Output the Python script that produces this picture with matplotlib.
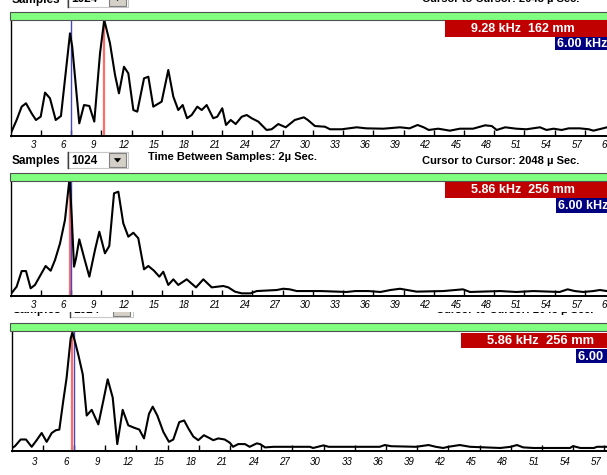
import matplotlib
matplotlib.use("Agg")
import matplotlib.pyplot as plt
from matplotlib.patches import Rectangle, Polygon
from matplotlib.transforms import blended_transform_factory, ScaledTranslation

plt.rcParams['font.family'] = ['Liberation Sans', 'DejaVu Sans']

# ---- spectrum data (frequency in kHz, relative amplitude in %) ----
khz1 = [0.0, 0.58, 1.08, 1.51, 2.07, 2.5, 2.97, 3.4, 3.89, 4.46, 4.98, 5.88, 6.1, 6.8,
        7.27, 7.8, 8.29, 8.86, 9.28, 9.85, 10.35, 10.74, 11.24, 11.67, 12.17, 12.56,
        13.23, 13.66, 14.15, 14.98, 15.64, 16.14, 16.63, 17.07, 17.5, 17.96, 18.52,
        18.96, 19.45, 20.1, 20.5, 21.0, 21.37, 21.84, 22.33, 22.93, 23.43, 23.92, 24.58,
        25.4, 25.9, 26.56, 27.3, 28.2, 29.1, 29.5, 30.2, 31.2, 31.7, 32.86, 34.35, 35.3,
        37.0, 38.65, 39.6, 40.4, 41.0, 41.5, 42.45, 43.6, 44.6, 45.9, 47.1, 47.76, 48.25,
        49.1, 50.2, 51.2, 52.55, 53.2, 53.9, 54.7, 55.4, 56.5, 57.4, 57.85, 58.8, 59.2]
amp1 = [2.3, 13.8, 25.3, 28.2, 19.5, 13.8, 16.7, 37.4, 32.5, 13.8, 17.2, 88.5, 77, 10.9,
        26.7, 25.9, 12.4, 71.3, 100, 79.9, 52.6, 36.8, 59.7, 54, 22.4, 21,
        49.7, 51.1, 25.3, 29.6, 56.9, 33.9, 22.4, 26.7, 15.3, 18.1, 25.3,
        22.4, 26.7, 15.3, 16.6, 23.9, 9.5, 13.8, 10.3, 16.6, 18.1, 15.3, 12.4,
        5.2, 5.8, 10.3, 7.5, 13.8, 16.1, 13.8, 8.6, 8.0, 5.8, 5.8, 7.5, 6.6,
        6.3, 7.5, 6.6, 9.5, 7.5, 5.2, 6.3, 4.6, 6.3, 6.3, 9.2, 8.6, 5.2,
        7.5, 6.3, 5.8, 7.5, 5.2, 6.3, 5.2, 6.6, 6.6, 5.8, 4.6, 6.6, 7.5]

khz2 = [0.0, 0.58, 1.08, 1.51, 1.97, 2.4, 2.9, 3.46, 3.96, 4.39, 4.89, 5.38, 5.78, 5.86,
        6.05, 6.28, 6.48, 6.8, 7.27, 7.8, 8.36, 8.79, 9.35, 9.78, 10.25, 10.68, 11.17,
        11.67, 12.17, 12.66, 13.23, 13.66, 14.22, 14.75, 15.14, 15.64, 16.14, 16.63,
        17.47, 18.39, 19.12, 19.95, 21.1, 21.6, 22.26, 22.93, 23.8, 24.42, 26.4, 27.06,
        27.7, 28.4, 30.8, 33.35, 34.2, 35.5, 36.7, 37.7, 38.65, 40.3, 42.95, 44.9, 45.6,
        48.6, 50.2, 51.9, 54.5, 55.3, 56.0, 56.85, 57.85, 58.5, 59.2]
amp2 = [1.7, 8.1, 21.7, 21.7, 6.7, 9.6, 17.4, 26.1, 22, 31.3, 45.8, 66.1, 98, 100,
        69, 25.5, 32.8, 49.3, 33.7, 16.8, 40, 55.9, 37.1, 43.5, 89.3, 90.7, 63.2,
        51.6, 55, 50.2, 23.2, 26.1, 22, 16.8, 21.1, 9.6, 14.5, 9.6,
        14.5, 7.5, 14.5, 7.5, 8.7, 7.5, 3.8, 2.3, 2.3, 4.3, 5.2, 6.3,
        5.8, 4.3, 4.3, 3.5, 4.3, 4.3, 3.5, 5.2, 6.3, 3.8, 4.3, 5.8, 3.5,
        4.3, 3.5, 4.3, 3.5, 5.8, 4.3, 3.5, 4.3, 5.2, 4.3]

khz3 = [0.0, 0.34, 0.88, 1.39, 1.94, 2.42, 2.9, 3.38, 3.87, 4.25, 4.6, 4.98, 5.3, 5.69,
        5.86, 6.1, 6.42, 6.85, 7.23, 7.71, 8.35, 8.83, 9.25, 9.73, 10.17, 10.69, 11.23,
        11.78, 12.29, 12.74, 13.22, 13.58, 14.02, 14.6, 15.14, 15.56, 16.13, 16.6, 17.0,
        17.48, 17.96, 18.5, 19.1, 19.4, 19.88, 20.5, 21.0, 21.3, 21.8, 22.45, 22.9, 23.58,
        23.9, 24.38, 25.2, 28.7, 29.0, 30.0, 30.5, 35.4, 35.9, 36.5, 38.9, 40.1, 40.8,
        41.5, 42.0, 43.1, 44.1, 47.0, 48.0, 48.6, 49.2, 50.2, 53.7, 54.0, 54.7, 56.0,
        56.3, 57.3]
amp3 = [2, 3.9, 9.5, 9.5, 3.3, 8.9, 15, 7.5, 15, 17.3, 17.9, 42.4, 61.8, 95.2,
        100, 92.5, 81.4, 64.7, 29.8, 34.6, 22.3, 42.4, 60.5, 45.1, 5.6, 34.6, 21.5,
        19.5, 17.9, 10.4, 31.2, 37.3, 29.8, 15.9, 7.5, 9.5, 24.2, 25.6, 19,
        12, 8.9, 13.1, 10.4, 8.9, 10.4, 9.5, 6.7, 3.3, 5.6, 5.6, 3.3, 6.2,
        5.6, 2.8, 3.3, 3.3, 2.3, 4.5, 3.3, 3.3, 4.8, 3.8, 3.3, 4.8, 3.3,
        2.3, 3.3, 4.8, 3.3, 2.3, 3.3, 4.8, 2.8, 2.3, 2.3, 3.9, 2.3, 2.3,
        3.3, 3.3]

# cursor positions (kHz) and readouts
red_cursor = [9.28, 5.86, 5.86]
blue_cursor = [6.00, 6.00, 6.00]
readout_red = ["9.28 kHz  162 mm", "5.86 kHz  256 mm", "5.86 kHz  256 mm"]
readout_blue = ["6.00 kHz", "6.00 kHz", "6.00 kHz"]

tick_khz = list(range(3, 61, 3))
tick_labels = [str(t) for t in tick_khz]

samples_value = "1024"
row_samples = "Samples"
row_time = "Time Between Samples: 2\u00b5 Sec."
row_cursor = "Cursor to Cursor: 2048 \u00b5 Sec."

# ---- figure in pixel units ----
W, H = 607, 475
DPI = 100
fig = plt.figure(figsize=(W / DPI, H / DPI), dpi=DPI)
fig.patch.set_facecolor('white')


def add_px_axes(x0, y0, x1, y1, zorder=0):
    ax = fig.add_axes([x0 / W, 1 - y1 / H, (x1 - x0) / W, (y1 - y0) / H])
    ax.set_zorder(zorder)
    return ax


def draw_panel(box, khz, amp, xmax, ytop, red_k, blue_k, label_dy):
    x0, y0, x1, y1 = box
    ax = add_px_axes(x0, y0, x1, y1, zorder=1)
    ax.patch.set_alpha(0)
    ax.set_xlim(0, xmax)
    ax.set_ylim(0, ytop)
    ax.axvline(red_k, color='#FF6A6A', lw=1.6, zorder=1)
    ax.axvline(blue_k, color='#4646C0', lw=1.0, zorder=2)
    ax.plot(khz, amp, color='black', lw=1.5, zorder=3, solid_joinstyle='round')
    for s in ('top', 'right'):
        ax.spines[s].set_visible(False)
    ax.spines['left'].set_linewidth(1.0)
    ax.spines['bottom'].set_linewidth(1.4)
    ax.set_yticks([])
    ax.set_xticks([t for t in tick_khz if t < xmax])
    ax.tick_params(axis='x', direction='in', length=4.5, width=1.0,
                   labelbottom=False)
    tr = (blended_transform_factory(ax.transData, ax.transAxes)
          + ScaledTranslation(-8 / DPI, -label_dy / DPI, fig.dpi_scale_trans))
    for t, lab in zip(tick_khz, tick_labels):
        ax.text(t, 0, lab, transform=tr, ha='center', va='center',
                fontsize=7, style='italic', clip_on=False)
    return ax


def control_row(y_top, y_bot, yc, sx=1.0, ox=0.0):
    ax = add_px_axes(0, y_top, W, y_bot, zorder=2)
    ax.set_xlim(0, W)
    ax.set_ylim(y_bot, y_top)
    ax.axis('off')

    def X(x):
        return ox + x * sx

    kw = dict(fontweight='bold', clip_on=True, va='center', ha='left')
    ax.text(X(12), yc + 1, row_samples, fontsize=8.5, **kw)
    ax.add_patch(Rectangle((X(67), yc - 8), X(128) - X(67), 16,
                           facecolor='white', edgecolor='#C8C8C8', lw=0.8))
    ax.plot([X(67.5), X(67.5)], [yc - 8, yc + 8], color='#404040', lw=1.0,
            clip_on=True)
    ax.text(X(71), yc + 1, samples_value, fontsize=8.5, **kw)
    ax.add_patch(Rectangle((X(109), yc - 7), X(126) - X(109), 14,
                           facecolor='#D4D0C8', edgecolor='#808080', lw=0.8))
    bx = (X(109) + X(126)) / 2
    ax.add_patch(Polygon([(bx - 3, yc - 1.5), (bx + 3, yc - 1.5), (bx, yc + 2)],
                         closed=True, facecolor='black', edgecolor='black', lw=0.5))
    ax.text(X(148), yc - 3, row_time, fontsize=8, **kw)
    ax.text(X(422), yc + 1, row_cursor, fontsize=8, **kw)


# spectrum panels
draw_panel((10.8, 20, W, 136), khz1, amp1, (W - 10.8) / 10.07, 100,
           red_cursor[0], blue_cursor[0], 9)
draw_panel((10.8, 181, W, 296), khz2, amp2, (W - 10.8) / 10.07, 100,
           red_cursor[1], blue_cursor[1], 9.5)
draw_panel((11.5, 331, W, 450.7), khz3, amp3, (W - 11.5) / 10.4, 101.4,
           red_cursor[2], blue_cursor[2], 11)

# control rows (partly hidden ones are clipped to their strip)
control_row(0, 11, -1.5)
control_row(148, 172, 160)
control_row(312, 322, 309, sx=1.033, ox=0.34)

# overlay: green header bars and cursor readouts
ov = add_px_axes(0, 0, W, H, zorder=3)
ov.set_xlim(0, W)
ov.set_ylim(H, 0)
ov.axis('off')

for y0, y1 in [(12, 20), (173, 181), (323, 331)]:
    ov.add_patch(Rectangle((10, y0), W + 10, y1 - y0, facecolor='#80FF80',
                           edgecolor='#505050', lw=0.8))

readout_boxes = [
    # red box (x, y, h), red text x, blue box (x, y, h), blue text x, fontsize
    ((445, 20, 16.5), 470.7, (555, 37, 12.5), 557, 9),
    ((445, 181.5, 16), 470.7, (555.7, 198, 14.5), 557.5, 9),
    ((461, 332.7, 15.6), 487.3, (575.7, 349, 14), 577.5, 9.3),
]
for (rb, rtx, bb, btx, fs), rt, bt in zip(readout_boxes, readout_red, readout_blue):
    ov.add_patch(Rectangle((rb[0], rb[1]), W - rb[0] + 5, rb[2],
                           facecolor='#C00000', edgecolor='none'))
    ov.text(rtx, rb[1] + rb[2] / 2 + 0.5, rt, color='white', fontweight='bold',
            fontsize=fs, ha='left', va='center')
    ov.add_patch(Rectangle((bb[0], bb[1]), W - bb[0] + 5, bb[2],
                           facecolor='#000080', edgecolor='none'))
    ov.text(btx, bb[1] + bb[2] / 2 + 0.5, bt, color='white', fontweight='bold',
            fontsize=fs, ha='left', va='center')

fig.savefig('out.png', dpi=DPI, facecolor='white')
